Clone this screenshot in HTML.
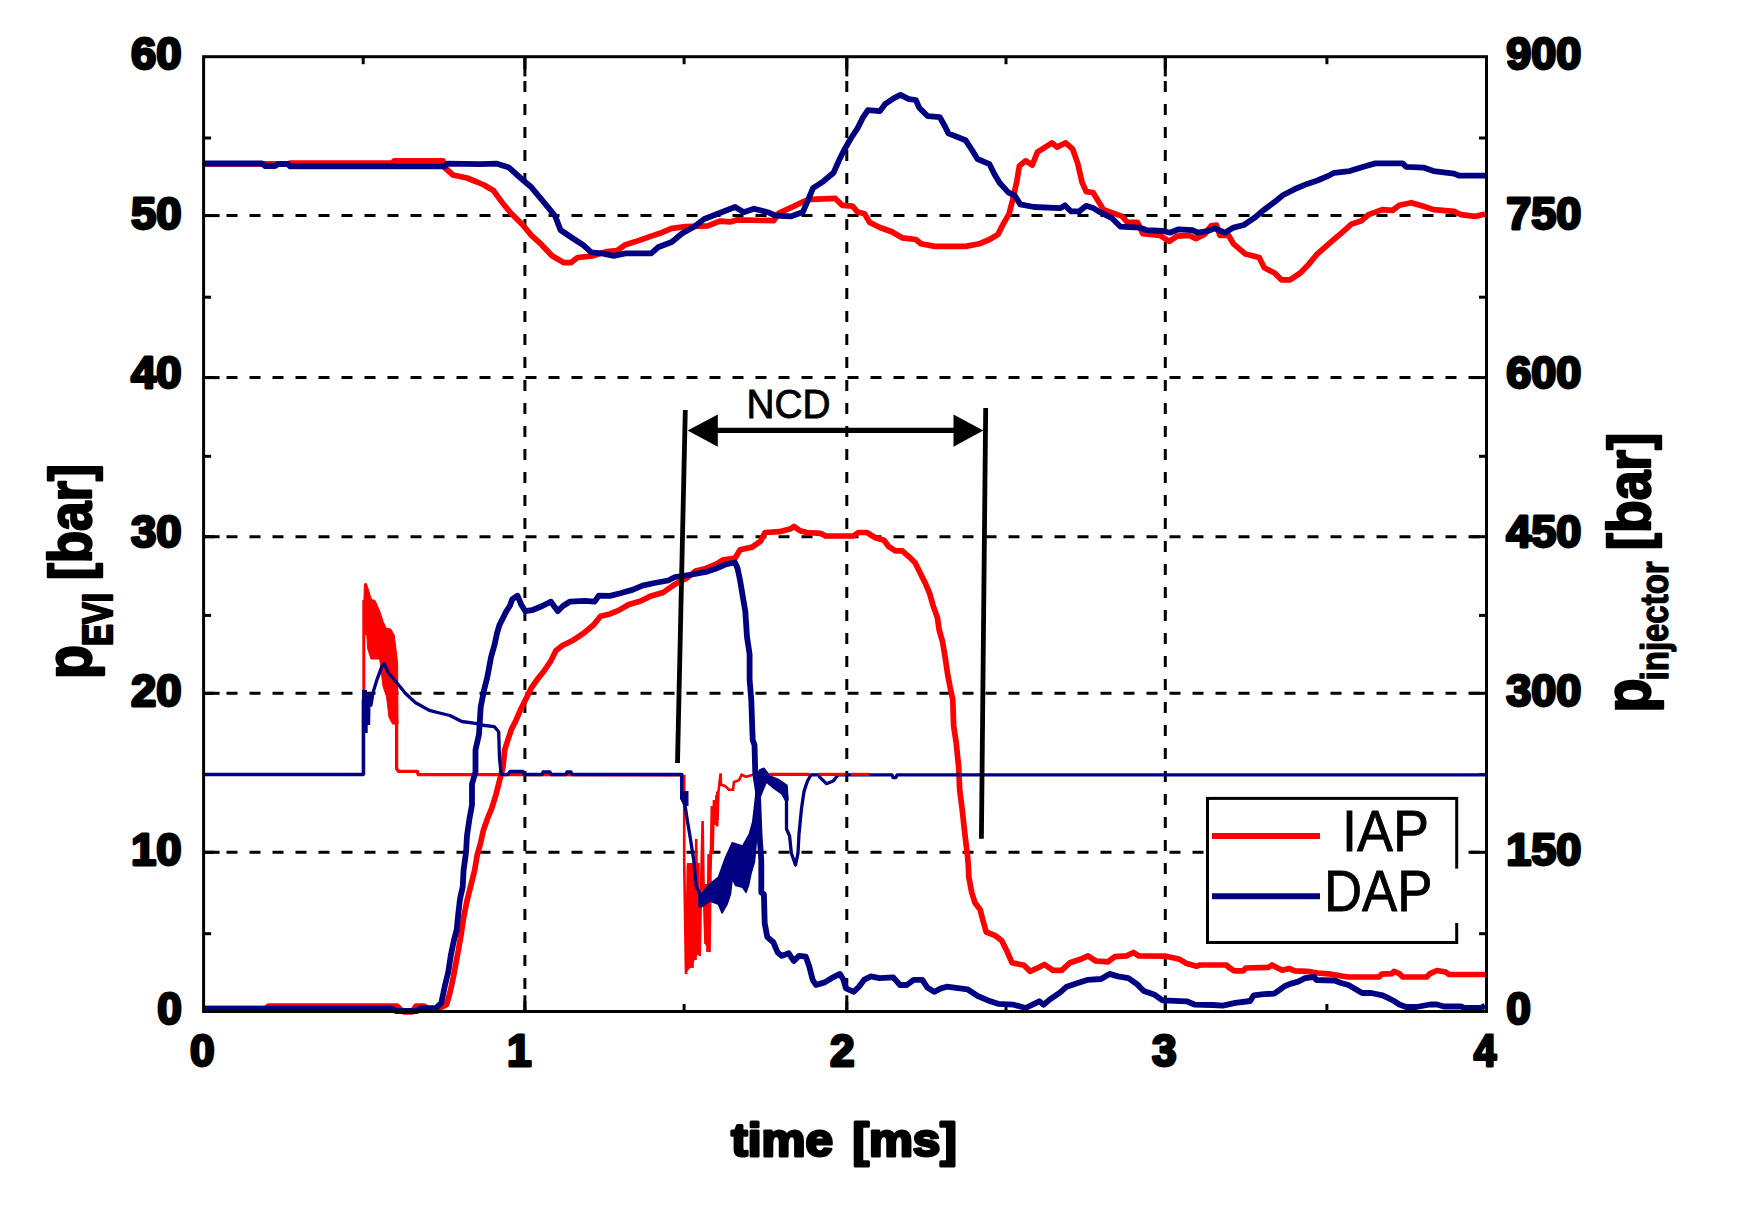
<!DOCTYPE html>
<html lang="en"><head><meta charset="utf-8"><title>Injection rate and pressure</title>
<style>
html,body{margin:0;padding:0;background:#fff;}
svg{display:block}
text{font-family:"Liberation Sans",sans-serif;fill:#000}
.b{font-weight:bold;stroke:#000;stroke-linejoin:round;paint-order:stroke}
.g{stroke:#000;stroke-width:3;stroke-dasharray:11 12;fill:none}
.k{stroke:#000;stroke-width:3;fill:none}
.c{fill:none;stroke-linejoin:round;stroke-linecap:butt}
</style></head><body>
<svg width="1752" height="1209" viewBox="0 0 1752 1209">
<rect width="1752" height="1209" fill="#fff"/>
<g class="g">
<line x1="203.5" y1="215.6" x2="1486.5" y2="215.6"/>
<line x1="203.5" y1="377.6" x2="1486.5" y2="377.6"/>
<line x1="203.5" y1="536.7" x2="1486.5" y2="536.7"/>
<line x1="203.5" y1="693.3" x2="1486.5" y2="693.3"/>
<line x1="203.5" y1="852.3" x2="1486.5" y2="852.3"/>
<line x1="524.9" y1="58.0" x2="524.9" y2="1011.5"/>
<line x1="846.8" y1="58.0" x2="846.8" y2="1011.5"/>
<line x1="1165.3" y1="58.0" x2="1165.3" y2="1011.5"/>
</g>
<g class="k">
<line x1="203.6" y1="215.6" x2="219.6" y2="215.6"/><line x1="1486.5" y1="215.6" x2="1470.5" y2="215.6"/>
<line x1="203.6" y1="377.6" x2="219.6" y2="377.6"/><line x1="1486.5" y1="377.6" x2="1470.5" y2="377.6"/>
<line x1="203.6" y1="536.7" x2="219.6" y2="536.7"/><line x1="1486.5" y1="536.7" x2="1470.5" y2="536.7"/>
<line x1="203.6" y1="693.3" x2="219.6" y2="693.3"/><line x1="1486.5" y1="693.3" x2="1470.5" y2="693.3"/>
<line x1="203.6" y1="852.3" x2="219.6" y2="852.3"/><line x1="1486.5" y1="852.3" x2="1470.5" y2="852.3"/>
<line x1="203.6" y1="138" x2="211.1" y2="138"/><line x1="1486.5" y1="138" x2="1479.0" y2="138"/>
<line x1="203.6" y1="297.2" x2="211.1" y2="297.2"/><line x1="1486.5" y1="297.2" x2="1479.0" y2="297.2"/>
<line x1="203.6" y1="456.3" x2="211.1" y2="456.3"/><line x1="1486.5" y1="456.3" x2="1479.0" y2="456.3"/>
<line x1="203.6" y1="615.4" x2="211.1" y2="615.4"/><line x1="1486.5" y1="615.4" x2="1479.0" y2="615.4"/>
<line x1="203.6" y1="774.5" x2="211.1" y2="774.5"/><line x1="1486.5" y1="774.5" x2="1479.0" y2="774.5"/>
<line x1="203.6" y1="933.7" x2="211.1" y2="933.7"/><line x1="1486.5" y1="933.7" x2="1479.0" y2="933.7"/>
<line x1="524.9" y1="56.7" x2="524.9" y2="76.4"/><line x1="524.9" y1="1011.5" x2="524.9" y2="995.3"/>
<line x1="846.8" y1="56.7" x2="846.8" y2="76.4"/><line x1="846.8" y1="1011.5" x2="846.8" y2="995.3"/>
<line x1="1165.3" y1="56.7" x2="1165.3" y2="76.4"/><line x1="1165.3" y1="1011.5" x2="1165.3" y2="995.3"/>
<line x1="363.2" y1="56.7" x2="363.2" y2="64.2"/><line x1="363.2" y1="1011.5" x2="363.2" y2="1004.0"/>
<line x1="684.1" y1="56.7" x2="684.1" y2="64.2"/><line x1="684.1" y1="1011.5" x2="684.1" y2="1004.0"/>
<line x1="1006" y1="56.7" x2="1006" y2="64.2"/><line x1="1006" y1="1011.5" x2="1006" y2="1004.0"/>
<line x1="1326.9" y1="56.7" x2="1326.9" y2="64.2"/><line x1="1326.9" y1="1011.5" x2="1326.9" y2="1004.0"/>
</g>
<g class="c" stroke="#ff0000">
<polyline stroke-width="3" points="363.8,774.5 363.8,600.0"/>
<polygon fill="#ff0000" stroke-width="1" points="363.5,611.0 364.5,583.7 366.5,583.7 370.2,595.7 372.0,600.0 374.5,600.0 376.0,602.5 379.7,611.1 383.1,621.4 386.0,628.0 390.8,629.1 394.2,635.1 397.6,662.5 398.0,724.0 392.5,724.1 389.0,717.3 386.5,696.7 383.0,686.4 379.7,659.0 371.0,659.0 367.7,648.8 366.8,635.1 365.5,635.0"/>
<polyline stroke-width="3.3" points="396.6,720.0 396.6,768.8 398.5,771.4 417.3,771.4 418.2,774.5 683.4,774.8"/>
<polyline stroke-width="2.6" stroke-linejoin="miter" points="684.2,774.8 684.2,862.0 686.0,974.0 688.0,866.0 689.5,968.0 691.0,870.0 692.5,968.0 694.0,880.0 695.5,960.0 696.2,839.0 697.5,955.0 699.0,900.0 699.7,956.0 701.0,890.0 702.6,821.0 703.5,882.0 705.5,944.0 706.5,884.0 707.5,952.0 708.6,854.0 709.5,952.0 710.5,870.0 712.0,806.0 712.5,854.0 714.0,800.0 715.0,825.0 716.5,795.0 717.5,820.0 718.5,791.0 720.6,773.4 721.0,784.5 725.3,786.2 728.8,789.7 733.0,789.7 734.0,782.0 739.0,780.2 741.6,774.8 746.0,776.8 752.7,774.8 869.0,774.8"/>
<polygon fill="#ff0000" stroke="none" points="686.8,863.0 699.7,863.0 699.7,950.0 697.0,955.0 692.0,966.0 686.8,972.0"/>
<polygon fill="#ff0000" stroke="none" points="704.8,884.0 710.0,884.0 710.0,950.0 704.8,944.0"/>
<polygon fill="#ff0000" stroke="none" points="710.8,806.0 713.4,806.0 713.4,800.0 716.0,800.0 716.0,791.4 718.5,791.4 718.5,826.5 716.0,826.5 716.0,819.0 713.4,819.0 713.4,854.0 710.8,854.0"/>
<polyline stroke-width="5.7" points="204.0,163.8 288.0,163.8 290.0,163.2 393.0,163.2 394.0,160.8 443.0,160.8 444.0,167.0 453.0,175.0 467.0,178.0 477.0,182.0 484.0,185.0 493.7,190.8 502.3,202.7 510.8,213.0 522.8,225.0 531.4,235.3 541.6,244.7 552.0,255.8 564.0,262.7 570.8,262.7 577.6,257.5 591.3,256.2 606.7,251.5 617.0,250.7 625.5,244.7 639.2,240.4 651.2,236.1 661.5,232.7 671.8,228.4 685.5,226.7 707.7,225.9 719.7,221.2 730.0,221.9 736.8,219.9 773.7,220.7 778.8,213.0 794.2,206.1 804.5,201.0 811.4,199.3 835.3,198.4 842.2,205.3 852.5,206.1 857.6,212.1 864.5,213.8 869.6,222.4 879.9,227.5 891.8,231.8 902.1,237.8 915.8,239.5 921.0,243.8 934.7,246.4 965.5,246.4 979.2,243.8 989.5,239.5 998.0,234.4 1003.2,224.1 1009.1,213.8 1012.6,200.1 1016.8,181.3 1019.4,165.9 1025.4,160.8 1032.3,165.0 1037.4,152.2 1046.8,146.2 1052.0,142.8 1057.0,147.1 1065.7,142.8 1072.5,148.8 1077.7,163.4 1082.0,182.2 1086.2,191.6 1093.0,192.5 1098.2,201.0 1103.4,209.6 1122.2,216.4 1127.3,222.4 1137.6,222.4 1142.7,233.6 1159.9,235.3 1169.3,241.3 1177.0,236.1 1189.0,235.3 1195.8,238.7 1204.4,234.4 1211.2,225.9 1216.4,225.0 1219.8,235.3 1228.4,235.3 1233.5,243.8 1245.5,254.1 1259.2,257.5 1264.3,267.8 1274.6,273.0 1281.4,279.8 1290.0,279.8 1300.3,273.0 1308.6,264.4 1317.1,254.1 1330.8,242.1 1342.8,231.8 1351.4,224.1 1361.6,220.7 1368.5,214.7 1382.2,209.6 1392.5,210.4 1399.3,205.3 1411.3,202.7 1423.3,206.2 1433.6,209.6 1454.1,211.3 1461.0,214.7 1474.7,216.4 1485.0,213.9"/>
<polyline stroke-width="5.7" points="204.0,1008.5 266.0,1008.5 268.5,1006.0 397.0,1006.0 400.0,1009.0 404.0,1012.0 412.0,1012.0 416.0,1006.0 424.0,1006.0 428.0,1009.0 440.0,1008.0 446.6,1004.5 450.0,992.5 453.4,977.0 456.8,958.2 458.4,950.0 461.0,934.9 463.6,917.8 467.0,900.7 471.3,883.6 474.7,869.9 477.3,854.5 480.7,842.5 483.3,830.5 487.5,818.5 491.8,808.2 496.0,794.5 499.5,780.8 503.0,767.0 504.7,749.8 508.0,739.5 511.5,729.2 515.8,720.7 521.0,708.7 527.0,696.7 531.2,688.2 537.2,679.6 544.0,671.0 550.9,660.8 556.0,650.5 562.9,645.3 573.2,640.2 583.4,633.4 593.7,624.8 600.5,616.2 610.0,613.9 618.6,610.4 628.8,604.5 640.8,601.0 651.1,595.9 663.1,592.5 671.6,586.5 678.5,582.2 687.0,577.9 695.6,571.0 705.9,568.5 716.2,564.2 723.0,559.9 735.0,558.2 740.1,549.7 752.1,547.1 760.7,541.1 765.0,532.5 779.5,531.7 789.8,529.1 794.1,526.5 800.0,530.8 806.9,532.5 820.6,533.4 825.8,536.0 853.2,536.0 858.3,532.5 866.8,532.5 875.4,537.7 884.0,540.2 888.6,546.5 895.4,550.8 902.3,550.8 909.1,556.8 915.1,562.8 920.2,573.1 925.4,583.4 929.7,593.6 933.1,605.6 937.4,617.6 939.1,629.6 942.5,641.6 945.1,657.0 947.6,674.1 950.2,687.8 952.8,699.8 953.6,725.7 956.2,742.8 958.8,768.5 959.6,789.0 962.2,809.6 964.8,833.6 967.3,854.1 968.3,865.0 968.8,877.0 971.7,892.5 975.0,902.8 980.2,909.7 982.8,920.0 986.2,932.0 994.8,935.3 1001.6,940.5 1006.8,950.8 1012.0,962.7 1024.0,965.3 1030.0,971.3 1036.0,968.7 1044.5,964.5 1053.0,970.4 1061.6,970.4 1070.0,962.7 1080.4,959.3 1088.0,955.9 1095.8,961.0 1107.8,961.9 1114.7,956.7 1126.6,955.9 1133.5,952.5 1138.6,955.9 1166.0,956.2 1179.7,959.3 1186.6,963.6 1196.8,966.2 1200.0,965.0 1226.3,965.0 1229.7,968.0 1234.2,970.8 1243.4,970.8 1245.7,968.0 1268.5,967.4 1272.0,965.0 1277.6,968.0 1282.2,970.2 1289.0,968.5 1294.7,970.8 1307.3,971.4 1317.6,973.0 1331.3,974.2 1341.6,976.0 1348.4,977.0 1379.2,977.0 1381.5,974.2 1391.8,973.7 1394.0,971.4 1399.3,973.6 1402.7,977.0 1426.7,977.0 1430.0,973.6 1437.0,970.5 1445.5,972.0 1449.0,974.5 1485.0,974.5"/>
</g>
<g class="c" stroke="#000080">
<polyline stroke-width="3.3" points="204.0,774.5 363.3,774.5 363.3,700.0 371.0,705.0 372.8,693.3 377.0,679.6 381.4,667.6 384.0,663.3 388.2,672.7 398.5,684.7 405.3,693.3 415.6,702.7 429.3,710.4 439.6,713.0 449.9,715.5 461.8,721.5 475.5,723.3 480.7,725.0 494.4,726.7 498.7,731.8 499.5,758.4 501.2,774.5 508.0,774.5 510.0,771.5 523.0,771.5 524.0,774.5 542.0,774.5 543.0,772.0 550.0,772.0 551.0,774.5 566.0,774.5 567.0,772.0 571.0,772.0 572.0,774.5 681.7,774.5 681.7,798.0 685.0,805.0 686.8,817.0 690.2,837.6 693.7,859.9 696.2,885.5 699.7,894.0 699.7,906.0 701.4,900.0"/>
<polygon fill="#000080" stroke="none" points="362.0,690.0 367.0,690.0 367.0,695.0 372.0,692.0 373.5,699.0 370.5,703.0 370.2,725.0 367.7,725.0 367.7,733.0 362.0,733.0"/>
<polygon fill="#000080" stroke="none" points="680.2,791.0 688.5,791.0 688.5,806.0 684.5,806.0 680.2,799.0"/>
<polygon fill="#000080" stroke-width="1.5" points="701.4,894.0 710.0,883.8 718.5,877.0 725.3,858.0 732.2,842.7 742.5,846.0 749.3,834.2 752.7,822.0 756.2,791.4 757.9,774.0 759.6,770.0 763.9,768.3 769.9,776.0 778.4,779.4 787.0,785.4 788.0,800.0 785.3,800.0 781.8,794.0 773.3,788.0 766.4,782.0 763.0,790.0 759.0,800.0 756.2,842.7 754.5,861.6 751.0,873.6 748.5,885.5 746.0,892.4 742.5,887.3 735.6,885.5 732.2,878.7 730.5,894.0 727.0,904.4 722.0,913.0 718.5,904.4 710.0,901.0 701.4,907.0"/>
<polyline stroke-width="3.3" points="786.5,795.0 786.5,829.0 789.6,836.0 791.3,853.0 795.5,865.0 798.0,853.0 799.0,834.2 801.5,808.5 804.0,791.4 807.5,781.0 811.0,774.8 819.5,774.8 819.5,776.8 826.4,783.7 833.2,781.0 836.6,776.8 838.0,774.8 892.0,774.8 893.0,777.5 896.0,777.5 897.0,774.8 1485.0,774.8"/>
<polyline stroke-width="5.8" points="204.0,163.5 262.0,163.5 265.0,166.0 275.0,166.0 278.0,164.0 288.0,164.0 290.0,166.3 445.0,166.3 447.0,163.7 480.0,164.2 497.0,163.7 509.0,167.6 519.4,177.0 531.4,187.3 540.0,197.6 548.5,207.9 555.3,216.4 560.5,230.0 570.8,237.0 582.7,244.7 591.3,252.4 603.3,253.6 613.6,255.8 625.5,253.3 651.2,253.3 658.0,247.3 671.8,242.0 682.0,233.6 694.0,226.7 704.3,219.0 719.7,213.0 735.1,207.0 743.7,212.2 754.0,208.7 767.7,212.2 775.4,215.5 790.8,216.4 802.8,212.1 808.0,200.1 813.0,188.2 823.4,181.3 833.6,172.7 838.8,160.8 843.9,150.5 850.8,138.5 857.6,128.2 862.7,117.9 867.9,110.2 879.9,111.1 885.0,104.2 893.6,98.3 900.4,94.8 909.0,99.1 915.8,100.0 919.2,107.7 927.8,116.2 939.8,117.1 945.0,126.5 948.4,133.4 965.5,140.2 972.3,150.5 977.5,159.0 989.5,164.2 994.6,174.5 999.7,183.0 1008.3,192.4 1015.1,195.9 1020.3,204.4 1034.0,207.0 1060.5,208.2 1064.8,205.3 1070.8,211.3 1079.4,211.3 1086.2,205.8 1093.0,207.9 1100.0,212.2 1112.0,218.2 1120.5,226.7 1139.3,227.6 1146.2,230.1 1163.3,231.0 1170.0,232.7 1178.7,229.3 1192.4,230.1 1197.5,232.7 1207.8,231.0 1214.7,228.4 1225.0,232.7 1233.5,227.6 1243.8,225.0 1254.0,218.2 1264.3,209.6 1274.6,201.9 1283.2,195.0 1296.8,188.2 1307.1,183.9 1317.4,180.5 1329.4,175.3 1334.2,172.8 1349.7,171.1 1363.4,166.8 1375.3,163.4 1402.7,163.4 1406.2,166.8 1423.3,167.6 1433.6,171.1 1454.1,173.6 1459.2,175.7 1485.0,175.7"/>
<polyline stroke-width="5.8" points="204.0,1008.7 392.0,1008.7 396.0,1011.0 417.0,1011.0 420.0,1008.5 436.0,1008.0 441.4,1002.7 444.9,985.6 448.3,971.9 450.9,954.8 454.0,940.0 456.7,929.8 458.4,912.7 460.0,899.0 462.7,887.0 463.6,870.0 466.0,852.7 467.0,835.6 469.5,818.5 472.0,805.0 472.0,784.0 475.5,772.0 475.5,749.8 479.0,734.4 480.7,707.0 484.1,689.9 487.5,676.2 491.0,657.3 494.4,645.3 497.0,633.4 499.5,624.8 503.0,618.0 506.4,611.1 509.8,606.0 512.4,599.1 517.5,595.7 521.0,604.2 525.2,611.1 532.0,610.2 542.3,606.0 550.9,601.7 557.7,611.1 562.9,606.0 569.7,601.7 585.1,600.8 594.6,601.7 598.8,595.7 610.0,595.9 620.3,593.3 632.3,589.9 642.5,585.6 654.5,583.0 668.2,580.5 675.0,577.0 692.2,574.5 705.9,571.9 716.2,568.5 726.4,564.2 735.0,562.5 737.6,568.5 740.1,580.5 742.7,595.9 745.3,611.3 747.0,637.0 749.6,654.1 749.6,679.8 751.3,700.0 752.7,740.0 754.5,745.0 755.3,774.0 757.9,791.4 759.6,836.0 761.3,860.0 761.3,892.5 763.9,894.2 764.7,923.4 767.3,937.0 773.3,942.2 777.6,952.5 781.8,955.9 788.7,953.3 793.8,961.0 799.0,955.9 805.8,956.7 809.2,966.2 812.7,979.9 816.0,985.0 824.7,982.4 831.5,978.2 840.0,973.9 843.5,979.9 846.0,988.4 853.8,991.8 858.9,986.7 864.0,979.9 870.9,976.4 879.5,978.2 893.2,977.3 900.0,985.0 906.8,985.0 913.7,979.9 922.3,979.9 927.4,987.6 934.2,991.8 941.0,988.4 946.8,986.7 967.4,989.3 977.7,996.0 988.0,1000.4 998.2,1003.8 1013.6,1004.7 1025.6,1008.0 1032.5,1004.7 1039.3,1001.3 1043.6,1004.7 1049.6,999.6 1059.9,992.7 1066.7,986.7 1077.0,983.3 1087.3,979.9 1101.0,979.0 1109.5,973.9 1118.0,976.4 1128.4,978.2 1137.0,984.1 1143.8,991.0 1154.0,994.4 1162.6,1000.4 1186.6,1001.3 1195.0,1004.7 1212.6,1005.0 1222.8,1005.6 1235.4,1002.8 1250.2,1001.0 1253.7,995.3 1263.9,994.2 1274.2,993.6 1280.0,989.6 1284.5,986.2 1290.2,983.9 1298.2,981.6 1305.0,978.2 1314.2,977.0 1316.4,980.0 1334.7,980.5 1340.4,982.8 1348.4,985.0 1355.3,989.0 1362.1,993.0 1371.2,993.0 1382.6,995.3 1388.4,998.2 1394.0,1001.0 1399.3,1004.5 1406.2,1007.0 1416.4,1007.0 1430.0,1004.5 1437.0,1004.5 1443.8,1006.5 1461.0,1006.5 1464.4,1007.9 1481.5,1007.9 1485.0,1005.3"/>
</g>
<polyline fill="none" stroke="#ff0000" stroke-width="3" points="770.0,774.3 809.0,774.3"/>
<polyline fill="none" stroke="#ff0000" stroke-width="3" points="818.6,774.3 845.0,774.3"/>
<polyline fill="none" stroke="#ff0000" stroke-width="3" points="851.0,774.3 869.0,774.3"/>
<rect class="k" x="203.6" y="56.7" width="1282.9" height="954.8"/>
<rect x="1207.5" y="798.4" width="249.2" height="144.1" fill="#fff" stroke="#000" stroke-width="3"/>
<rect x="1440" y="868.6" width="25" height="54.4" fill="#fff"/>
<line x1="1212" y1="836" x2="1320" y2="836" stroke="#ff0000" stroke-width="6"/>
<line x1="1212" y1="896.3" x2="1320" y2="896.3" stroke="#000080" stroke-width="6"/>
<text x="1342" y="850.5" font-size="58" textLength="87" lengthAdjust="spacingAndGlyphs" stroke="#000" stroke-width="0.8">IAP</text>
<text x="1324" y="910.8" font-size="58" textLength="108.5" lengthAdjust="spacingAndGlyphs" stroke="#000" stroke-width="0.8">DAP</text>
<g stroke="#000" stroke-width="4.8" fill="none">
<line x1="685.3" y1="410" x2="677.5" y2="763"/>
<line x1="985.7" y1="408" x2="981.4" y2="838.7"/>
<line x1="712" y1="430.4" x2="958" y2="430.4" stroke-width="5.2"/>
</g>
<polygon points="687.6,430.4 717.8,414.4 717.8,446.7"/>
<polygon points="983.3,430.4 953.5,414.4 953.5,446.7"/>
<text x="746.5" y="418.1" font-size="41" textLength="84" lengthAdjust="spacingAndGlyphs" stroke="#000" stroke-width="0.9">NCD</text>
<g class="b" font-size="44" stroke-width="2.8">
<text x="130.9" y="69.3" textLength="50.6" lengthAdjust="spacingAndGlyphs">60</text>
<text x="130.9" y="228.5" textLength="50.6" lengthAdjust="spacingAndGlyphs">50</text>
<text x="130.9" y="387.6" textLength="50.6" lengthAdjust="spacingAndGlyphs">40</text>
<text x="130.9" y="546.8" textLength="50.6" lengthAdjust="spacingAndGlyphs">30</text>
<text x="130.9" y="706.0" textLength="50.6" lengthAdjust="spacingAndGlyphs">20</text>
<text x="130.9" y="865.1" textLength="50.6" lengthAdjust="spacingAndGlyphs">10</text>
<text x="157.2" y="1024.3" textLength="24.6" lengthAdjust="spacingAndGlyphs">0</text>
<text x="1506.2" y="69.3" textLength="75.2" lengthAdjust="spacingAndGlyphs">900</text>
<text x="1506.2" y="228.5" textLength="75.2" lengthAdjust="spacingAndGlyphs">750</text>
<text x="1506.2" y="387.6" textLength="75.2" lengthAdjust="spacingAndGlyphs">600</text>
<text x="1506.2" y="546.8" textLength="75.2" lengthAdjust="spacingAndGlyphs">450</text>
<text x="1506.2" y="706.0" textLength="75.2" lengthAdjust="spacingAndGlyphs">300</text>
<text x="1506.2" y="865.1" textLength="75.2" lengthAdjust="spacingAndGlyphs">150</text>
<text x="1506.2" y="1024.3" textLength="24.6" lengthAdjust="spacingAndGlyphs">0</text>
<text x="190.0" y="1066.2" textLength="24.6" lengthAdjust="spacingAndGlyphs">0</text>
<text x="507.1" y="1066.2" textLength="24.6" lengthAdjust="spacingAndGlyphs">1</text>
<text x="829.9" y="1066.2" textLength="24.6" lengthAdjust="spacingAndGlyphs">2</text>
<text x="1152.1" y="1066.2" textLength="24.6" lengthAdjust="spacingAndGlyphs">3</text>
<text x="1473.8" y="1066.2" textLength="22.6" lengthAdjust="spacingAndGlyphs">4</text>
</g>
<text class="b" x="731.3" y="1156.2" font-size="47" stroke-width="3" word-spacing="5.5" textLength="225.5" lengthAdjust="spacingAndGlyphs">time [ms]</text>
<g class="b" stroke-width="2.4" transform="translate(91.3,676.6) rotate(-90)"><text x="-2.5" y="0" font-size="64" textLength="34" lengthAdjust="spacingAndGlyphs">p</text><text x="30.5" y="20.7" font-size="42" textLength="53" lengthAdjust="spacingAndGlyphs">EVI</text><text x="96.5" y="0" textLength="116" lengthAdjust="spacingAndGlyphs"><tspan font-size="58" dy="-1">[</tspan><tspan font-size="61" dy="1">bar</tspan><tspan font-size="58" dy="-1">]</tspan></text></g>
<g class="b" stroke-width="2.4" transform="translate(1650.2,709.4) rotate(-90)"><text x="-3" y="0" font-size="64" textLength="34" lengthAdjust="spacingAndGlyphs">p</text><text x="29" y="17.8" font-size="38" stroke-width="1.3" textLength="119" lengthAdjust="spacingAndGlyphs">injector</text><text x="159.5" y="0" textLength="117" lengthAdjust="spacingAndGlyphs"><tspan font-size="58" dy="-1">[</tspan><tspan font-size="61" dy="1">bar</tspan><tspan font-size="58" dy="-1">]</tspan></text></g>
</svg></body></html>
